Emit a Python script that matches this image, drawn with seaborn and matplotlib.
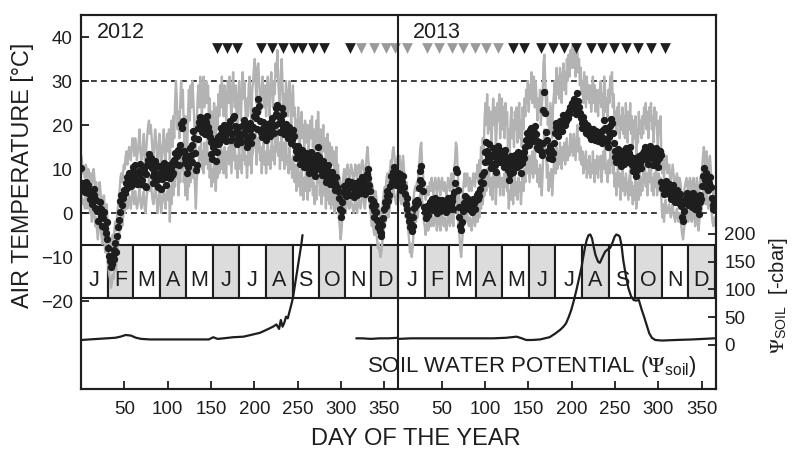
import numpy as np
import pandas as pd
import matplotlib
matplotlib.use("Agg")
import matplotlib.pyplot as plt
from matplotlib.patches import Rectangle
import seaborn as sns

# ---------------- daily air temperature [°C] ----------------
# 2012 (leap year, 366 days)
tmean_2012 = [
    10.2, 6.8, 5.5, 6.2, 4.8, 7.0, 5.9, 4.5, 6.3, 5.1,
    3.2, 4.6, 2.0, 3.8, 5.4, 4.1, 1.2, 2.9, 0.5, -1.8,
    0.8, 2.5, 1.0, -0.6, -2.9, -1.2, 0.3, -3.5, -4.6, -2.1,
    -5.8, -7.9, -9.8, -10.8, -12.2, -11.5, -9.6, -10.4, -8.3, -6.9,
    -8.8, -5.2, -3.1, -1.6, 0.2, 2.8, 4.0, 1.9, 3.5, 5.3,
    4.6, 6.8, 8.1, 5.7, 7.4, 9.0, 7.9, 6.1, 8.6, 10.4,
    9.3, 7.2, 10.8, 8.4, 6.5, 7.8, 9.6, 11.2, 8.0, 6.6,
    7.5, 9.4, 10.1, 6.2, 5.8, 8.9, 10.9, 12.1, 13.5, 11.0,
    12.6, 10.2, 8.3, 6.9, 9.2, 11.8, 10.5, 7.4, 6.0, 8.8,
    10.7, 9.1, 5.4, 7.7, 9.9, 11.3, 8.2, 6.4, 9.5, 10.9,
    8.1, 9.8, 7.9, 10.3, 8.6, 11.4, 9.2, 12.0, 13.6, 11.1,
    12.9, 14.3, 10.8, 13.7, 15.5, 20.2, 19.4, 20.8, 14.0, 12.6,
    11.3, 13.2, 9.1, 10.4, 12.6, 14.8, 13.1, 11.5, 15.4, 18.6,
    17.0, 13.6, 9.8, 10.9, 16.8, 19.4, 20.6, 21.8, 19.9, 18.4,
    20.3, 21.5, 19.2, 18.0, 20.7, 22.1, 19.6, 18.3, 17.2, 16.1,
    13.5, 12.2, 15.0, 16.4, 14.1, 11.8, 13.9, 15.7, 17.3, 16.0,
    17.8, 19.4, 18.6, 16.9, 18.2, 19.9, 17.5, 16.3, 18.7, 20.1,
    19.3, 20.9, 18.2, 16.5, 17.9, 21.5, 22.0, 19.7, 18.4, 16.9,
    15.6, 17.1, 19.5, 18.0, 16.2, 17.7, 19.9, 21.1, 20.0, 18.6,
    16.4, 15.0, 17.3, 19.2, 20.5, 18.8, 16.0, 17.4, 19.6, 22.0,
    23.4, 21.7, 19.1, 22.9, 25.8, 24.3, 20.8, 18.5, 17.2, 19.4,
    20.6, 18.7, 17.5, 16.6, 18.1, 20.3, 19.0, 17.4, 18.9, 20.7,
    21.5, 19.8, 18.2, 20.1, 22.5, 23.9, 24.6, 22.1, 20.4, 18.3,
    21.2, 23.8, 22.6, 19.5, 17.9, 18.8, 20.2, 19.1, 17.0, 18.4,
    19.6, 17.3, 15.8, 16.7, 18.9, 17.6, 15.2, 14.1, 12.6, 13.9,
    15.3, 13.2, 11.1, 12.5, 14.4, 12.9, 11.7, 10.4, 12.2, 13.6,
    11.9, 10.2, 9.0, 11.4, 12.8, 13.9, 12.3, 10.7, 9.5, 8.3,
    10.1, 11.6, 13.1, 15.0, 12.7, 10.9, 9.7, 8.6, 10.5, 11.8,
    10.0, 8.4, 7.1, 9.3, 10.8, 9.6, 7.8, 6.5, 8.2, 9.4,
    7.6, 6.3, 5.2, 6.9, 8.1, 6.0, 4.9, 3.3, 1.0, -1.0,
    0.4, 2.6, 4.8, 6.2, 5.1, 3.9, 6.6, 7.3, 5.5, 4.2,
    5.9, 7.0, 6.1, 4.4, 3.6, 5.3, 6.8, 5.0, 4.1, 6.0,
    7.2, 5.8, 4.6, 6.9, 8.2, 7.4, 5.6, 4.3, 6.4, 8.8,
    10.1, 7.9, 6.3, 5.0, 3.2, 1.5, 2.8, 0.6, -0.9, 1.9,
    0.2, -1.6, -3.1, -2.2, -4.1, -5.3, -4.6, -2.8, -1.1, 0.9,
    2.4, 1.6, 3.8, 4.9, 2.7, 4.2, 6.1, 8.3, 7.0, 9.4,
    10.5, 8.8, 7.6, 6.4, 8.1, 9.2,
]
tmax_2012 = [
    13, 11, 9, 10, 8, 11, 10, 8, 10, 9,
    7, 9, 6, 8, 10, 8, 5, 7, 4, 2,
    5, 7, 5, 3, 1, 3, 4, 0, -1, 2,
    -2, -4, -6, -7, -8, -7, -5, -6, -4, -2,
    -4, -1, 1, 3, 5, 8, 9, 7, 9, 11,
    10, 13, 14, 11, 13, 15, 14, 12, 15, 17,
    16, 13, 17, 15, 12, 14, 16, 19, 14, 12,
    13, 16, 18, 12, 11, 15, 18, 20, 21, 18,
    20, 17, 14, 12, 16, 19, 17, 13, 11, 15,
    18, 15, 10, 13, 16, 19, 14, 11, 16, 18,
    14, 19, 12, 18, 21, 15, 22, 17, 25, 30,
    26, 19, 23, 17, 25, 30, 24, 28, 20, 15,
    22, 16, 14, 23, 28, 21, 29, 24, 30, 26,
    22, 17, 14, 20, 26, 29, 24, 31, 27, 22,
    28, 31, 24, 27, 30, 25, 29, 23, 26, 20,
    18, 23, 17, 25, 20, 16, 24, 19, 27, 22,
    29, 24, 31, 25, 22, 29, 26, 21, 27, 30,
    25, 31, 26, 21, 28, 32, 27, 24, 29, 22,
    20, 27, 30, 24, 21, 28, 32, 26, 30, 24,
    21, 26, 22, 29, 31, 25, 21, 28, 30, 33,
    35, 29, 25, 33, 34, 30, 26, 23, 28, 31,
    27, 24, 29, 22, 28, 31, 25, 22, 29, 32,
    28, 24, 30, 27, 34, 31, 37, 30, 26, 23,
    32, 35, 29, 24, 27, 23, 30, 26, 22, 27,
    30, 24, 20, 26, 29, 22, 24, 18, 21, 17,
    24, 18, 15, 21, 23, 17, 20, 14, 21, 18,
    16, 20, 13, 18, 21, 17, 22, 15, 19, 12,
    17, 21, 16, 23, 18, 14, 19, 12, 17, 20,
    14, 17, 10, 15, 18, 12, 16, 10, 14, 15,
    11, 14, 8, 12, 15, 9, 11, 6, 8, 3,
    4, 6, 8, 10, 9, 7, 10, 11, 9, 8,
    9, 11, 10, 8, 7, 9, 11, 9, 8, 10,
    11, 9, 8, 11, 12, 11, 9, 8, 10, 13,
    15, 12, 10, 9, 7, 5, 6, 4, 3, 5,
    4, 2, 1, 2, 0, -1, 0, 1, 3, 5,
    6, 5, 8, 9, 7, 8, 10, 12, 11, 14,
    15, 13, 11, 10, 12, 13,
]
tmin_2012 = [
    6, 3, 2, 3, 1, 4, 2, 1, 3, 2,
    0, 1, -2, 0, 2, 0, -3, -1, -4, -6,
    -3, -1, -3, -5, -7, -5, -3, -8, -9, -6,
    -10, -12, -14, -15, -17, -16, -14, -15, -13, -11,
    -13, -9, -7, -6, -4, -2, 0, -3, -1, 1,
    0, 2, 3, 1, 2, 4, 3, 1, 3, 5,
    4, 2, 5, 3, 1, 2, 4, 6, 3, 1,
    2, 4, 5, 1, 0, 3, 5, 6, 8, 5,
    7, 5, 3, 2, 4, 6, 5, 2, 0, 3,
    5, 4, 0, 2, 4, 6, 3, 1, 4, 5,
    3, 7, -2, 6, 2, 8, 4, 9, 6, 12,
    8, 12, 4, 9, 7, 15, 10, 16, 7, 9,
    4, 9, 3, 7, 6, 11, 7, 10, 8, 14,
    10, 6, 1, 7, 11, 9, 15, 12, 16, 10,
    14, 9, 16, 11, 14, 17, 10, 13, 8, 11,
    6, 10, 7, 12, 9, 5, 11, 8, 13, 9,
    11, 16, 10, 14, 9, 15, 11, 8, 14, 12,
    15, 11, 16, 9, 13, 17, 12, 15, 10, 13,
    8, 12, 15, 10, 13, 9, 16, 12, 17, 11,
    13, 8, 12, 15, 11, 16, 9, 13, 14, 17,
    15, 18, 11, 17, 14, 19, 12, 15, 9, 14,
    16, 11, 14, 9, 13, 17, 11, 14, 10, 15,
    17, 12, 15, 11, 18, 14, 20, 13, 16, 10,
    15, 19, 12, 16, 10, 14, 17, 11, 13, 9,
    15, 10, 12, 8, 13, 10, 7, 11, 5, 9,
    11, 6, 9, 4, 10, 7, 3, 8, 5, 10,
    7, 3, 8, 5, 9, 6, 10, 4, 7, 2,
    6, 3, 9, 7, 11, 4, 8, 2, 6, 9,
    4, 7, 1, 6, 3, 7, 2, 5, 1, 6,
    2, 5, 0, 3, 6, 1, 3, -1, -3, -6,
    -4, -1, 1, 3, 2, 0, 3, 4, 2, 1,
    2, 3, 2, 1, 0, 2, 3, 1, 0, 2,
    3, 2, 1, 3, 4, 4, 2, 1, 3, 5,
    6, 4, 3, 1, -1, -3, -1, -4, -5, -2,
    -4, -6, -8, -7, -9, -10, -9, -7, -5, -3,
    -1, -2, 0, 1, -1, 0, 2, 4, 3, 5,
    6, 4, 3, 2, 4, 5,
]

# 2013 (365 days)
tmean_2013 = [
    7.8, 8.9, 6.5, 5.2, 7.1, 8.4, 6.0, 4.3, 2.1, 3.5,
    1.0, -0.5, -1.8, -3.2, -2.4, -4.1, -2.9, -1.0, 1.2, 2.6,
    1.8, 3.0, 2.2, 5.6, 7.4, 9.5, 10.6, 6.8, 4.9, 1.4,
    0.3, -1.2, 0.8, 1.6, -0.4, 0.9, 2.4, 1.1, 3.2, 2.0,
    0.6, 1.9, 3.4, 2.5, 0.1, 1.3, 2.9, 1.7, 0.4, 2.2,
    3.0, 1.5, 0.7, 2.6, 1.2, 0.2, 1.9, 3.3, 2.1, 0.9,
    1.8, 3.6, 2.7, 1.0, 4.8, 6.9, 10.0, 9.4, 5.2, 1.3,
    -0.8, -2.9, -3.8, -2.0, 0.5, 2.3, 3.9, 1.6, 2.8, 3.4,
    1.7, 0.8, 2.6, 1.4, 0.3, 1.9, 3.1, 2.2, 1.0, 2.9,
    4.0, 3.2, 4.6, 3.8, 5.5, 7.1, 8.6, 6.8, 9.3, 11.5,
    13.9, 16.1, 14.2, 12.8, 15.6, 13.1, 11.4, 10.2, 12.9, 14.8,
    13.3, 11.0, 9.4, 12.1, 14.5, 15.2, 13.0, 11.6, 12.7, 14.0,
    12.2, 10.5, 13.4, 14.3, 12.6, 11.1, 9.8, 7.6, 8.9, 11.7,
    12.9, 10.8, 9.3, 11.5, 13.2, 12.0, 10.4, 11.9, 13.8, 12.5,
    10.9, 9.0, 11.3, 13.6, 12.4, 13.9, 15.1, 16.6, 18.2, 17.0,
    15.4, 16.9, 18.8, 19.4, 17.6, 16.3, 18.5, 19.7, 17.9, 16.4,
    15.0, 14.6, 16.2, 15.5, 14.1, 13.2, 15.8, 23.5, 27.6, 22.8,
    18.4, 16.7, 14.0, 12.6, 13.5, 15.3, 14.4, 12.2, 13.7, 16.0,
    18.1, 19.6, 20.5, 18.9, 17.6, 19.8, 21.0, 20.2, 18.7, 20.9,
    22.3, 21.4, 19.9, 20.8, 22.6, 21.7, 23.1, 22.4, 24.2, 23.6,
    25.0, 24.4, 25.8, 24.9, 23.3, 22.5, 27.3, 25.4, 24.1, 22.8,
    21.6, 20.4, 19.3, 21.9, 20.7, 19.0, 18.2, 20.1, 19.5, 17.8,
    18.6, 17.4, 16.9, 18.0, 19.2, 17.7, 16.5, 17.9, 18.7, 17.2,
    16.4, 17.6, 18.4, 16.8, 15.9, 17.3, 18.9, 21.1, 19.4, 16.6,
    16.1, 15.0, 17.2, 18.5, 19.8, 21.3, 20.4, 18.1, 15.9, 14.2,
    12.8, 11.5, 13.2, 14.6, 13.4, 12.0, 10.6, 12.9, 14.0, 12.7,
    11.2, 13.4, 14.8, 13.1, 12.0, 11.5, 13.6, 14.9, 12.7, 10.8,
    9.6, 11.3, 12.6, 10.4, 8.5, 9.8, 12.1, 13.0, 11.4, 10.2,
    12.0, 13.5, 12.3, 14.1, 15.0, 13.7, 12.2, 11.1, 12.9, 14.4,
    15.2, 13.8, 12.4, 11.0, 12.7, 14.5, 13.3, 14.8, 11.9, 10.5,
    12.6, 14.0, 13.2, 7.1, 5.6, 6.8, 4.4, 5.9, 7.2, 6.1,
    4.8, 5.5, 6.7, 4.2, 3.1, 5.0, 6.3, 4.6, 3.4, 2.5,
    4.1, 5.2, 3.6, 2.2, 4.4, 3.0, 1.6, -0.8, -1.9, 0.4,
    2.3, 3.5, 4.6, 2.9, 1.8, 3.7, 4.3, 2.6, 1.4, 3.2,
    4.5, 2.1, 0.9, 2.8, 3.9, 1.2, -0.2, 2.4, 4.0, 3.1,
    6.2, 8.5, 10.3, 7.4, 6.0, 9.1, 7.7, 5.3, 6.8, 8.2,
    5.9, 3.4, 1.9, 0.8, 2.6,
]
tmax_2013 = [
    12, 13, 10, 9, 11, 13, 10, 8, 5, 7,
    4, 3, 2, 0, 1, -1, 1, 3, 5, 6,
    5, 7, 6, 10, 12, 15, 16, 11, 9, 5,
    4, 3, 5, 6, 4, 5, 7, 5, 8, 6,
    4, 6, 8, 7, 4, 6, 8, 6, 4, 7,
    8, 6, 5, 7, 5, 4, 6, 8, 7, 5,
    6, 9, 7, 5, 10, 12, 16, 15, 10, 5,
    3, 1, 0, 2, 5, 7, 9, 6, 8, 9,
    7, 5, 8, 6, 5, 7, 9, 8, 6, 9,
    8, 11, 7, 12, 9, 15, 12, 17, 14, 21,
    25, 20, 27, 18, 24, 19, 23, 15, 21, 26,
    20, 24, 14, 19, 25, 21, 27, 17, 22, 26,
    19, 24, 17, 25, 20, 23, 15, 19, 13, 21,
    24, 17, 21, 15, 23, 19, 24, 16, 22, 25,
    17, 21, 15, 24, 19, 26, 22, 28, 25, 30,
    23, 29, 26, 32, 25, 28, 31, 24, 30, 26,
    21, 26, 23, 28, 20, 24, 27, 34, 36, 30,
    24, 28, 20, 23, 18, 25, 21, 17, 24, 27,
    30, 25, 33, 27, 31, 26, 33, 29, 25, 31,
    34, 28, 32, 27, 35, 30, 36, 31, 37, 33,
    38, 33, 37, 35, 31, 36, 38, 32, 35, 29,
    33, 27, 30, 25, 32, 28, 24, 31, 26, 29,
    25, 29, 23, 27, 31, 25, 29, 23, 28, 26,
    22, 28, 25, 30, 24, 27, 22, 31, 28, 23,
    26, 21, 28, 25, 31, 27, 32, 24, 27, 20,
    23, 18, 24, 20, 25, 17, 22, 19, 24, 18,
    22, 17, 25, 20, 16, 23, 19, 25, 18, 22,
    15, 21, 17, 22, 13, 19, 16, 23, 18, 21,
    17, 22, 18, 24, 20, 25, 19, 23, 17, 24,
    21, 25, 19, 22, 16, 24, 20, 23, 18, 15,
    21, 18, 22, 13, 9, 14, 8, 12, 10, 13,
    9, 10, 11, 8, 7, 9, 11, 9, 7, 6,
    8, 9, 7, 6, 8, 7, 5, 2, 1, 4,
    6, 7, 8, 6, 5, 7, 8, 6, 5, 7,
    8, 6, 4, 6, 8, 5, 3, 6, 8, 7,
    10, 13, 15, 12, 10, 14, 12, 9, 11, 13,
    10, 7, 5, 4, 6,
]
tmin_2013 = [
    4, 5, 3, 2, 4, 5, 3, 1, -1, 0,
    -2, -4, -6, -9, -7, -10, -8, -5, -2, -1,
    -2, 0, -1, 2, 3, 5, 6, 3, 1, -2,
    -3, -5, -3, -2, -4, -3, -1, -3, 0, -2,
    -3, -2, 0, -1, -4, -2, 0, -2, -4, -1,
    0, -2, -3, -1, -3, -4, -2, 0, -1, -3,
    -2, 0, -1, -3, 1, 3, 5, 4, 1, -3,
    -5, -8, -10, -7, -4, -1, 0, -2, -1, 0,
    -2, -3, -1, -2, -4, -2, 0, -1, -3, -1,
    0, -2, 2, -1, 3, 1, 5, 2, 6, 4,
    9, 5, 10, 6, 11, 7, 4, 8, 3, 9,
    6, 9, 2, 7, 10, 6, 9, 4, 8, 6,
    8, 4, 9, 6, 10, 5, 7, 1, 5, 3,
    8, 5, 2, 6, 9, 4, 7, 3, 8, 5,
    7, 2, 6, 9, 5, 10, 7, 12, 9, 13,
    10, 7, 13, 9, 14, 8, 12, 15, 9, 12,
    7, 10, 6, 11, 8, 4, 9, 15, 19, 13,
    14, 8, 11, 5, 9, 6, 10, 4, 8, 11,
    13, 9, 15, 10, 14, 11, 16, 12, 10, 15,
    12, 16, 11, 14, 17, 12, 15, 13, 18, 14,
    17, 13, 18, 15, 12, 16, 20, 14, 17, 12,
    15, 11, 14, 9, 13, 10, 14, 8, 12, 9,
    13, 8, 11, 9, 14, 10, 7, 12, 9, 13,
    8, 12, 10, 13, 7, 11, 14, 10, 15, 9,
    11, 7, 12, 9, 14, 11, 15, 9, 12, 6,
    9, 4, 8, 11, 6, 9, 3, 7, 10, 5,
    8, 4, 9, 7, 5, 3, 8, 10, 4, 7,
    2, 6, 3, 8, 1, 5, 7, 3, 9, 4,
    8, 5, 10, 7, 11, 6, 9, 4, 8, 11,
    7, 10, 5, 8, 4, 9, 6, 11, 4, 7,
    9, 5, 8, 3, -1, 2, -2, 1, 3, 0,
    0, 1, 2, 0, -1, 1, 2, 0, -1, -2,
    0, 1, -1, -2, 0, -1, -3, -5, -6, -4,
    -2, -1, 1, -1, -2, 0, 1, -1, -2, 0,
    1, -1, -3, -1, 0, -2, -4, -1, 1, 0,
    2, 4, 6, 3, 2, 5, 3, 1, 2, 4,
    2, 0, -2, -3, -1,
]

# ---------------- soil water potential [-cbar] ----------------
psi_2012a_days = [1, 10, 20, 30, 40, 46, 52, 58, 64, 70,
                  80, 90, 100, 110, 120, 130, 140, 148, 153, 158,
                  165, 176, 188, 199, 207, 214, 218, 222, 226, 229,
                  231, 233, 235, 237, 239, 241, 243, 245, 247, 249,
                  251, 253, 255, 256]
psi_2012a = [9, 10, 11, 12, 13, 15, 18, 17, 13, 11,
             10, 10, 10, 10, 10, 10, 10, 10, 14, 11,
             12, 14, 15, 19, 22, 27, 30, 33, 37, 29,
             45, 33, 40, 51, 48, 60, 72, 85, 105, 125,
             145, 165, 185, 198]
psi_2012b_days = [318, 325, 335, 345, 355, 366]
psi_2012b = [12, 12, 11, 12, 12, 13]
psi_2013_days = [1, 15, 30, 50, 70, 90, 110, 125, 137, 143,
                 148, 155, 164, 175, 181, 187, 191, 194, 197, 200,
                 203, 206, 209, 212, 214, 216, 218, 220, 222, 224,
                 226, 228, 231, 233, 236, 239, 242, 245, 248, 250,
                 252, 254, 256, 258, 260, 263, 266, 269, 272, 275,
                 278, 281, 284, 287, 290, 293, 297, 305, 320, 340,
                 365]
psi_2013 = [11, 12, 12, 12, 12, 12, 12, 13, 15, 12,
            9, 9, 10, 14, 20, 27, 33, 39, 50, 63,
            80, 99, 120, 141, 160, 177, 190, 198, 199, 192,
            176, 162, 150, 148, 158, 168, 172, 175, 186, 195,
            199, 198, 195, 180, 153, 125, 102, 88, 81, 80,
            81, 65, 51, 36, 21, 13, 9, 8, 9, 10,
            12]

# ---------------- sampling dates (day of year) ----------------
samples_2012_black = [157, 169, 181, 208, 221, 234, 246, 256, 268, 281, 311]
samples_2012_grey = [323, 338, 352, 363]
samples_2013_grey = [11, 34, 48, 62, 75, 89, 102, 116]
samples_2013_black = [133, 146, 165, 179, 192, 205, 223, 236, 249, 263, 277, 292, 308]

month_letters = ["J", "F", "M", "A", "M", "J", "J", "A", "S", "O", "N", "D"]
month_len_2012 = [31, 29, 31, 30, 31, 30, 31, 31, 30, 31, 30, 31]
month_len_2013 = [31, 28, 31, 30, 31, 30, 31, 31, 30, 31, 30, 31]
doy_ticks = [50, 100, 150, 200, 250, 300, 350]

# ---------------- layout / style ----------------
sns.set_style("ticks")
plt.rcParams["font.family"] = ["Liberation Sans", "DejaVu Sans"]
plt.rcParams["mathtext.fontset"] = "stix"

INK = "#1e1e1e"
GREY_LINE = "#b3b3b3"
GREY_BOX = "#dcdcdc"
GREY_TRI = "#9a9a9a"
YEAR2 = 366            # 2013 starts after the 366 days of 2012
BAND_LO, BAND_HI = -19.25, -7.2
TRI_LEVEL = 37.4
TICK_FS = 13.5

W, H = 792, 449
fig = plt.figure(figsize=(W / 100, H / 100), dpi=100)


def fpos(x, y):
    return x / W, 1 - y / H


ax = fig.add_axes([81 / W, 1 - 389 / H, (716 - 81) / W, (389 - 15) / H])

temp = pd.DataFrame({
    "day": np.r_[np.arange(1, 367), np.arange(1, 366) + YEAR2] - 0.5,
    "tmean": tmean_2012 + tmean_2013,
    "tmax": tmax_2012 + tmax_2013,
    "tmin": tmin_2012 + tmin_2013,
})

# month strip
for offset, lengths in [(0, month_len_2012), (YEAR2, month_len_2013)]:
    start = offset
    for i, (n, letter) in enumerate(zip(lengths, month_letters)):
        ax.add_patch(Rectangle((start, BAND_LO), n, BAND_HI - BAND_LO,
                               facecolor=GREY_BOX if i % 2 else "white",
                               edgecolor=INK, linewidth=1.5, zorder=1))
        ax.text(start + n / 2, -15.3, letter, ha="center", va="center",
                fontsize=15.5, color=INK, zorder=1.2)
        start += n

# reference temperature levels
for lvl in (30, 0):
    ax.axhline(lvl, color=INK, linewidth=1.2, linestyle=(0, (3.5, 2.5)), zorder=1.5)

# daily max / min and mean
for col in ("tmax", "tmin"):
    sns.lineplot(data=temp, x="day", y=col, ax=ax, color=GREY_LINE,
                 linewidth=1.7, estimator=None, sort=False, zorder=2)
sns.scatterplot(data=temp, x="day", y="tmean", ax=ax, color=INK,
                s=28, linewidth=0, zorder=3)

# sampling dates
black_days = np.r_[samples_2012_black, np.array(samples_2013_black) + YEAR2] - 0.5
grey_days = np.r_[samples_2012_grey, np.array(samples_2013_grey) + YEAR2] - 0.5
sns.scatterplot(x=black_days, y=np.full(len(black_days), TRI_LEVEL), ax=ax,
                marker="v", s=60, color=INK, linewidth=0, zorder=3)
sns.scatterplot(x=grey_days, y=np.full(len(grey_days), TRI_LEVEL), ax=ax,
                marker="v", s=60, color=GREY_TRI, linewidth=0, zorder=3)

ax.axvline(YEAR2, color=INK, linewidth=1.5, zorder=4)

ax.set_xlim(0, 732.5)
ax.set_ylim(-40, 45)
ax.set_yticks(range(-20, 41, 10))
ax.set_xticks(doy_ticks + [d + YEAR2 for d in doy_ticks])
ax.set_xticklabels([str(d) for d in doy_ticks] * 2)
ax.tick_params(direction="in", length=6, width=1.3, labelsize=TICK_FS,
               colors=INK, top=False, right=False)
ax.tick_params(axis="x", pad=9)
ax.tick_params(axis="y", pad=6)
ax.set_xlabel("")
ax.set_ylabel("")

# soil water potential on the right-hand scale
ax2 = ax.twinx()
segments = [
    (np.array(psi_2012a_days) - 0.5, psi_2012a),
    (np.array(psi_2012b_days) - 0.5, psi_2012b),
    (np.array(psi_2013_days) + YEAR2 - 0.5, psi_2013),
]
for xs, ys in segments:
    sns.lineplot(x=xs, y=ys, ax=ax2, color=INK, linewidth=1.6,
                 estimator=None, sort=False)
ax2.set_ylim(-79.3, 594.6)
ax2.set_yticks([0, 50, 100, 150, 200])
ax2.tick_params(direction="in", length=6, width=1.3, labelsize=TICK_FS,
                colors=INK, pad=6)
ax2.set_ylabel("")

for a in (ax, ax2):
    for sp in a.spines.values():
        sp.set_linewidth(1.5)
        sp.set_color(INK)
        sp.set_visible(True)

# labels
fig.text(*fpos(23, 175), "AIR TEMPERATURE [°C]", rotation=90,
         ha="center", va="center", fontsize=16.8, color=INK)
fig.text(*fpos(415.5, 445), "DAY OF THE YEAR", ha="center", va="baseline",
         fontsize=17, color=INK)
fig.text(*fpos(778, 295), r"$\Psi_{\mathregular{SOIL}}$  [-cbar]", rotation=90,
         ha="center", va="center", fontsize=14.5, color=INK)
fig.text(*fpos(97, 38), "2012", ha="left", va="baseline", fontsize=15.5, color=INK)
fig.text(*fpos(413, 38), "2013", ha="left", va="baseline", fontsize=15.5, color=INK)
fig.text(*fpos(697, 372), r"SOIL WATER POTENTIAL ($\Psi_{\mathregular{soil}}$)",
         ha="right", va="baseline", fontsize=16, color=INK)

fig.savefig("out.png", dpi=100)
